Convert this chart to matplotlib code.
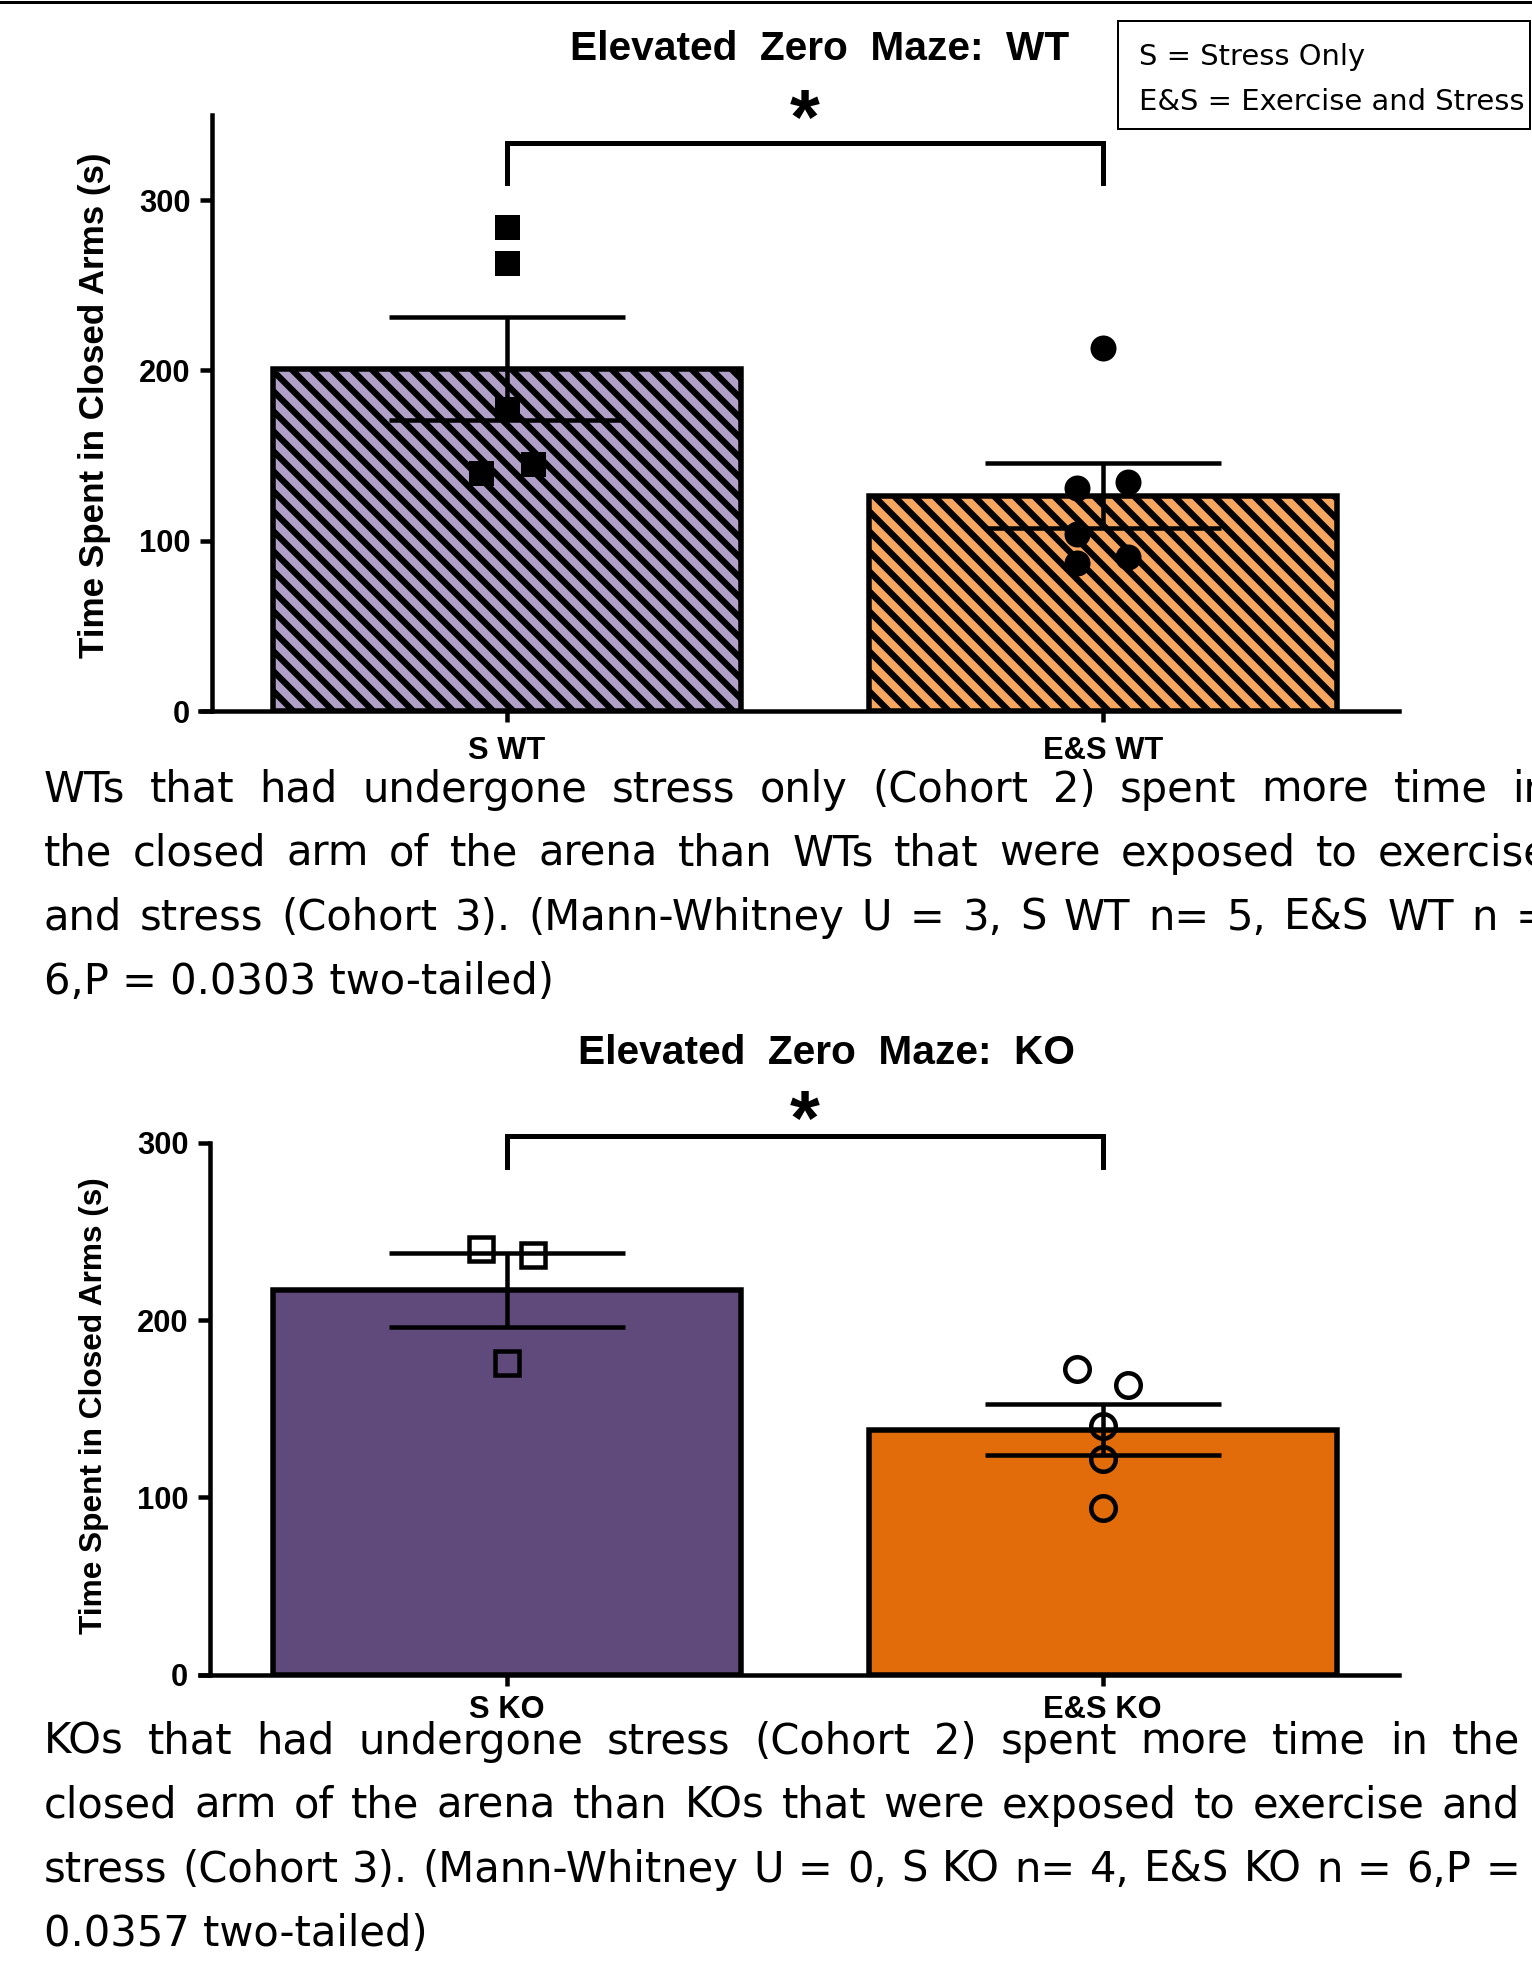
import matplotlib
matplotlib.use('Agg')
import matplotlib.pyplot as plt
from matplotlib.lines import Line2D
from matplotlib.patches import Rectangle
from matplotlib.collections import LineCollection

# ---------------- data ----------------
categories_wt = ['S WT', 'E&S WT']
means_wt = [201.0, 126.5]
sem_wt = [30.3, 19.1]
s_wt_points = [284.0, 263.0, 177.5, 140.0, 144.8]
s_wt_side = [0, 0, 0, -1, 1]
es_wt_points = [213.0, 131.0, 134.6, 104.0, 86.7, 90.6]
es_wt_side = [0, -1, 1, -1, -1, 1]

categories_ko = ['S KO', 'E&S KO']
means_ko = [217.0, 138.2]
sem_ko = [21.0, 14.2]
s_ko_points = [240.0, 236.5, 175.5]
s_ko_side = [-1, 1, 0]
es_ko_points = [172.5, 163.5, 140.0, 121.5, 93.8]
es_ko_side = [-1, 1, 0, 0, 0]

yticks_wt = [0, 100, 200, 300]
yticks_ko = [0, 100, 200, 300]

title_wt = 'Elevated  Zero  Maze:  WT'
title_ko = 'Elevated  Zero  Maze:  KO'
ylabel = 'Time Spent in Closed Arms (s)'
legend_lines = ['S = Stress Only', 'E&S = Exercise and Stress']

caption_wt = ['WTs that had undergone stress only (Cohort 2) spent more time in',
              'the closed arm of the arena than WTs that were exposed to exercise',
              'and stress (Cohort 3). (Mann-Whitney U = 3, S WT n= 5, E&S WT n =',
              '6,P = 0.0303 two-tailed)']
caption_ko = ['KOs that had undergone stress (Cohort 2) spent more time in the',
              'closed arm of the arena than KOs that were exposed to exercise and',
              'stress (Cohort 3). (Mann-Whitney U = 0, S KO n= 4, E&S KO n = 6,P =',
              '0.0357 two-tailed)']

# ---------------- style ----------------
DPI = 120
W, H = 1532, 1963
plt.rcParams['font.family'] = ['Liberation Sans', 'DejaVu Sans']

def fx(px):
    return px / W

def fy(py):
    return 1 - py / H

fig = plt.figure(figsize=(W / DPI, H / DPI), dpi=DPI)
fig.patch.set_facecolor('white')

JIT = 0.043
BAR_W = 0.785
STRIPE_PERIOD_PX = 20.0
STRIPE_LW = 3.8


def add_stripes(ax, bars):
    inv = ax.transData.inverted()
    for bar in bars:
        x0, y0 = bar.get_x(), bar.get_y()
        (px0, py0) = ax.transData.transform((x0, y0))
        (px1, py1) = ax.transData.transform((x0 + bar.get_width(),
                                             y0 + bar.get_height()))
        hgt = py1 - py0
        segs = []
        X = px0 - hgt - STRIPE_PERIOD_PX
        while X < px1 + STRIPE_PERIOD_PX:
            a = inv.transform((X, py1))
            b = inv.transform((X + hgt, py0))
            segs.append([tuple(a), tuple(b)])
            X += STRIPE_PERIOD_PX
        lc = LineCollection(segs, colors='black', linewidths=STRIPE_LW,
                            zorder=1.5)
        ax.add_collection(lc, autolim=False)
        lc.set_clip_path(bar)


def make_panel(rect, cats, means, sems, pts_a, side_a, pts_b, side_b,
               colors, striped, ylim, yticks, marker_a, marker_b, filled,
               ms_a, ms_b, bracket, star_y, ylab_size, spine_off, ylab_pos,
               xpad):
    ax = fig.add_axes(rect)
    x = [0, 1]
    ax.set_xlim(-0.5154, 1.4974)
    ax.set_ylim(*ylim)
    fills = ax.bar(x, means, width=BAR_W, color=colors, linewidth=0,
                   zorder=1)
    if striped:
        add_stripes(ax, fills)
    ax.bar(x, means, width=BAR_W, fill=False, edgecolor='black',
           linewidth=3.3, zorder=2)
    ax.errorbar(x, means, yerr=sems, fmt='none', ecolor='black',
                elinewidth=2.7, capsize=71, capthick=2.7, zorder=3)
    xa = [0 + s * JIT for s in side_a]
    xb = [1 + s * JIT for s in side_b]
    if filled:
        ax.plot(xa, pts_a, linestyle='none', marker=marker_a, ms=ms_a,
                mfc='black', mec='black', mew=0, zorder=4, clip_on=False)
        ax.plot(xb, pts_b, linestyle='none', marker=marker_b, ms=ms_b,
                mfc='black', mec='black', mew=0, zorder=4, clip_on=False)
    else:
        ax.plot(xa, pts_a, linestyle='none', marker=marker_a, ms=ms_a,
                mfc='none', mec='black', mew=2.7, zorder=4, clip_on=False)
        ax.plot(xb, pts_b, linestyle='none', marker=marker_b, ms=ms_b,
                mfc='none', mec='black', mew=2.7, zorder=4, clip_on=False)
    lo, hi = bracket
    ax.plot([0, 0, 1, 1], [lo, hi, hi, lo], color='black', lw=3.0,
            solid_joinstyle='miter', clip_on=False, zorder=5)
    ax.text(0.5, star_y, '*', ha='center', va='center', fontsize=46,
            fontweight='bold', clip_on=False)
    ax.set_xlim(-0.5154, 1.4974)
    ax.set_ylim(*ylim)
    ax.set_xticks(x)
    ax.set_xticklabels(cats)
    ax.set_yticks(yticks)
    for s in ['top', 'right']:
        ax.spines[s].set_visible(False)
    for s in ['left', 'bottom']:
        ax.spines[s].set_linewidth(2.7)
    ax.spines['left'].set_position(('axes', spine_off))
    ax.tick_params(axis='x', length=6.6, width=2.7, pad=xpad, labelsize=18.5)
    ax.tick_params(axis='y', length=7.0, width=2.7, pad=6, labelsize=18.5)
    for lab in ax.get_xticklabels() + ax.get_yticklabels():
        lab.set_fontweight('bold')
    ax.set_ylabel(ylabel, fontsize=ylab_size, fontweight='bold', va='center')
    ax.yaxis.set_label_coords(*ylab_pos)
    ax.patch.set_alpha(0)
    return ax


ax1 = make_panel([fx(200), fy(711), 1199 / W, 596 / H], categories_wt,
                 means_wt, sem_wt, s_wt_points, s_wt_side, es_wt_points,
                 es_wt_side, ['#B1A1C9', '#F7A660'], True, (0, 350), yticks_wt,
                 's', 'o', True, 15, 15.6, (310, 333.7), 345,
                 21, 12 / 1199, (-0.0884, 0.5126), 8.5)

ax2 = make_panel([fx(200), fy(1674.6), 1199 / W, 531.9 / H], categories_ko,
                 means_ko, sem_ko, s_ko_points, s_ko_side, es_ko_points,
                 es_ko_side, ['#5F4A7B', '#E36C0A'], False, (0, 300), yticks_ko,
                 's', 'o', False, 14, 14.7, (286.4, 304), 310.5,
                 19, 10 / 1199, (-0.0884, 0.5057), 5.5)

# titles
fig.text(fx(820), fy(60), title_wt, ha='center', va='baseline',
         fontsize=24.4, fontweight='bold')
fig.text(fx(826), fy(1064), title_ko, ha='center', va='baseline',
         fontsize=24.4, fontweight='bold')

# top border line
fig.add_artist(Line2D([0, 1], [fy(1.5), fy(1.5)], transform=fig.transFigure,
                      color='black', lw=1.8))

# legend box
fig.add_artist(Rectangle((fx(1118), fy(129)), (1530 - 1118) / W,
                         (129 - 20.5) / H, transform=fig.transFigure,
                         fill=False, edgecolor='black', lw=1.2))
fig.text(fx(1139), fy(65), legend_lines[0], fontsize=17.4,
         family='DejaVu Sans', va='baseline', ha='left')
fig.text(fx(1139), fy(110), legend_lines[1], fontsize=17.4,
         family='DejaVu Sans', va='baseline', ha='left')

# captions (justified)
renderer = fig.canvas.get_renderer()
CAP_SIZE = 25.0


def caption(lines, L, R, baselines):
    for i, (line, yb) in enumerate(zip(lines, baselines)):
        if i == len(lines) - 1:
            fig.text(fx(L), fy(yb), line, fontsize=CAP_SIZE,
                     family='DejaVu Sans', va='baseline', ha='left')
            continue
        words = line.split(' ')
        texts = [fig.text(fx(L), fy(yb), w, fontsize=CAP_SIZE,
                          family='DejaVu Sans', va='baseline', ha='left')
                 for w in words]
        widths = [t.get_window_extent(renderer).width for t in texts]
        gap = (R - L - sum(widths)) / (len(words) - 1)
        gap = max(gap, 8)
        xpos = L
        for t, w in zip(texts, widths):
            t.set_x(fx(xpos))
            xpos += w + gap


caption(caption_wt, 44, 1550, [802, 866, 930, 994])
caption(caption_ko, 44, 1520, [1754, 1818, 1882, 1946])

fig.savefig('out.png', dpi=DPI, facecolor='white')
